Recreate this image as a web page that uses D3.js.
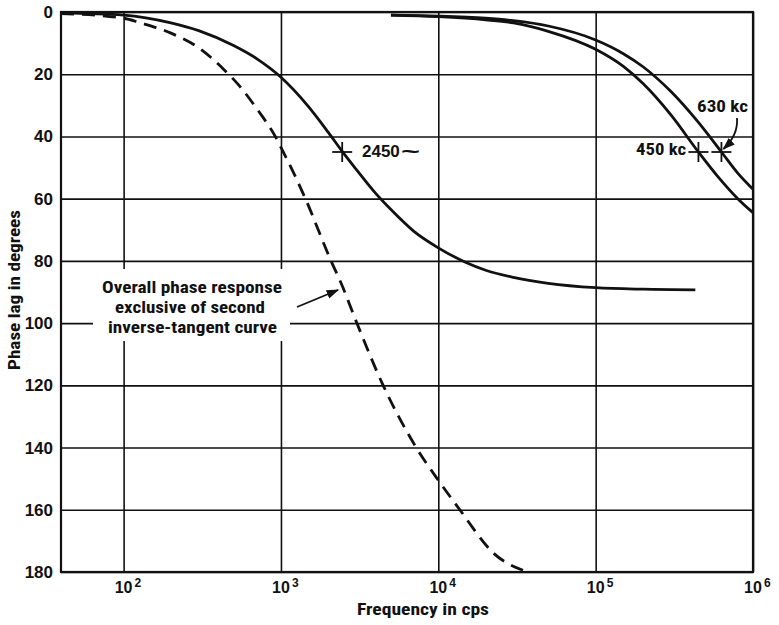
<!DOCTYPE html>
<html><head><meta charset="utf-8">
<script src="https://cdn.jsdelivr.net/npm/d3@7"></script>
<style>
body{margin:0;background:#fff;}
text{font-family:"Liberation Sans",Arial,sans-serif;font-weight:bold;fill:#111;}
.cond{font-family:"Roboto Condensed","Liberation Sans Narrow","Liberation Sans",Arial,sans-serif;}
</style></head>
<body><svg id="c" width="779" height="625"></svg>
<script>
// ---- data ----
const xTicks = [100, 1000, 10000, 100000, 1000000];
const xTickExp = ["2", "3", "4", "5", "6"];
const yTicks = [0, 20, 40, 60, 80, 100, 120, 140, 160, 180];

const freq2450 = [40, 100, 200, 300, 500, 700, 1000, 1500, 2000, 2450, 3000, 4000, 5000, 7000, 10000, 15000, 20000, 30000, 50000, 100000, 200000, 430000];
const lag2450  = [0.3, 1, 3.5, 6, 10.8, 15, 21, 30.5, 38.7, 44.8, 50.5, 58.3, 63.5, 70.5, 75.8, 80.5, 83, 85.3, 87.2, 88.6, 89.1, 89.3];

const freqOverall = [40, 100, 128, 200, 310, 430, 550, 700, 920, 1000, 1430, 2060, 2450, 2930, 4460, 7240, 10000, 13700, 22500, 37000];
const lagOverall  = [0.5, 2, 3.5, 6.8, 12, 18.3, 24, 31, 40, 43.5, 60, 79.5, 88, 98, 120, 140, 150.5, 160, 174, 180];

const freq450 = [5000, 10000, 20000, 30000, 50000, 100000, 150000, 200000, 300000, 450000, 600000, 800000, 1000000];
const lag450  = [1, 1.5, 2.5, 3.5, 6.2, 12, 17.5, 23, 33, 45, 53, 60, 64.5];

const freq630 = [5000, 10000, 20000, 30000, 50000, 100000, 150000, 200000, 300000, 450000, 630000, 800000, 1000000];
const lag630  = [1, 1.3, 2, 2.8, 4.5, 9, 13.4, 17.6, 25.5, 35.5, 45, 51.8, 57];

const markerFreqs = [2450, 450000, 630000];
const markerLags  = [45, 45, 45];

const xTitle = "Frequency in cps";
const yTitle = "Phase lag in degrees";
const noteLines = ["Overall phase response", "exclusive of second", "inverse-tangent curve"];

// ---- drawing ----
const svg = d3.select("#c");
const L = 61, R = 753, T = 12, B = 572;
const x = d3.scaleLog().domain([40, 1e6]).range([L, R]);
const y = d3.scaleLinear().domain([0, 180]).range([T, B]);

svg.append("defs").append("marker").attr("id","ah").attr("viewBox","0 0 10 10")
  .attr("refX",9).attr("refY",5).attr("markerWidth",7).attr("markerHeight",7)
  .attr("orient","auto").append("path").attr("d","M0,1.5 L10,5 L0,8.5 Z").attr("fill","#111");

// grid via axes
const gy = svg.append("g").attr("transform",`translate(${L},0)`)
  .call(d3.axisLeft(y).tickValues(yTicks).tickSize(-(R-L)).tickFormat(d=>d).tickPadding(8));
gy.select(".domain").remove();
gy.selectAll("line").attr("stroke","#111").attr("stroke-width",1.6);
gy.selectAll("text").style("font-size","17px").attr("fill","#111");

const gx = svg.append("g").attr("transform",`translate(0,${B})`)
  .call(d3.axisBottom(x).tickValues(xTicks).tickSize(-(B-T)).tickFormat(""));
gx.select(".domain").remove();
gx.selectAll("line").attr("stroke","#111").attr("stroke-width",1.6);

// x tick labels with exponents
const xl = svg.append("g");
xTicks.forEach((t,i)=>{
  xl.append("text").attr("x", x(t)).attr("y", 593).attr("text-anchor","middle").style("font-size","16px").text("10");
  xl.append("text").attr("x", x(t)+11).attr("y", 587).style("font-size","12px").text(xTickExp[i]);
});

// frame
svg.append("rect").attr("x",L).attr("y",T).attr("width",R-L).attr("height",B-T)
  .attr("fill","none").attr("stroke","#111").attr("stroke-width",2.2);

// white box behind note
svg.append("rect").attr("x",93).attr("y",269).attr("width",197).attr("height",72).attr("fill","#fff");

const line = d3.line().x(d=>x(d[0])).y(d=>y(d[1])).curve(d3.curveMonotoneX);
const draw = (fs, ls, dash) => svg.append("path").datum(fs.map((f,i)=>[f, ls[i]]))
  .attr("d", line).attr("fill","none").attr("stroke","#111").attr("stroke-width",2.8)
  .attr("stroke-dasharray", dash || null);

draw(freqOverall, lagOverall, "13,8");
draw(freq2450, lag2450);
draw(freq450, lag450);
draw(freq630, lag630);

// cross markers
markerFreqs.forEach((f,i)=>{
  const cx = x(f), cy = y(markerLags[i]);
  svg.append("line").attr("x1",cx-10).attr("x2",cx+10).attr("y1",cy).attr("y2",cy).attr("stroke","#111").attr("stroke-width",1.8);
  svg.append("line").attr("x1",cx).attr("x2",cx).attr("y1",cy-10).attr("y2",cy+10).attr("stroke","#111").attr("stroke-width",1.8);
});

// labels
svg.append("text").attr("x", 362).attr("y", 157).style("font-size","17px").text("2450");
svg.append("text").attr("x", 401).attr("y", 158).attr("textLength",19).attr("lengthAdjust","spacingAndGlyphs").style("font-size","20px").text("~");
svg.append("text").attr("class","cond").attr("x", 636).attr("y", 155).attr("textLength",50).attr("lengthAdjust","spacingAndGlyphs").style("font-size","17px").text("450 kc");
svg.append("text").attr("class","cond").attr("x", 697).attr("y", 112).attr("textLength",51).attr("lengthAdjust","spacingAndGlyphs").style("font-size","17px").text("630 kc");
svg.append("path").attr("d", `M737,118 C738,130 733,140 ${x(630000)+2},${y(45)-3}`)
  .attr("fill","none").attr("stroke","#111").attr("stroke-width",1.8).attr("marker-end","url(#ah)");

// note
const noteX = [102, 115, 108], noteW = [180, 150, 169];
noteLines.forEach((t,i)=>{
  svg.append("text").attr("class","cond").attr("x",noteX[i]).attr("y",293+i*20)
    .attr("textLength",noteW[i]).attr("lengthAdjust","spacingAndGlyphs").style("font-size","17px").text(t);
});
svg.append("line").attr("x1",297).attr("y1",307).attr("x2",338).attr("y2",290)
  .attr("stroke","#111").attr("stroke-width",1.8).attr("marker-end","url(#ah)");

// titles
svg.append("text").attr("class","cond").attr("x",357).attr("y",615).attr("textLength",132).attr("lengthAdjust","spacingAndGlyphs").style("font-size","16px").text(xTitle);
svg.append("text").attr("class","cond").attr("transform","translate(20,370) rotate(-90)").attr("textLength",160).attr("lengthAdjust","spacingAndGlyphs").style("font-size","17px").text(yTitle);
</script></body></html>
